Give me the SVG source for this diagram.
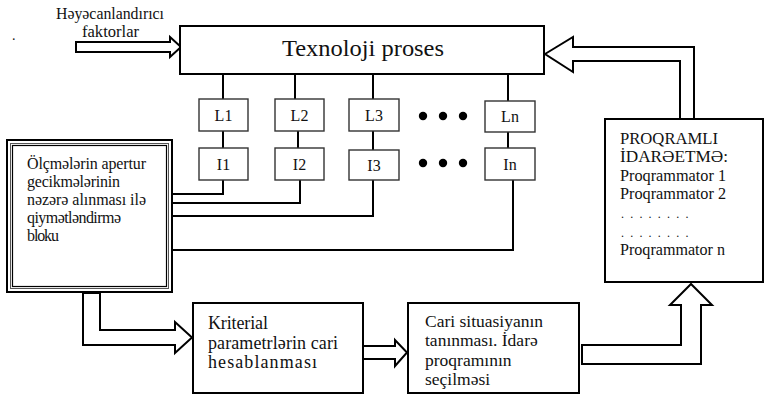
<svg xmlns="http://www.w3.org/2000/svg" width="765" height="397" viewBox="0 0 765 397">
<style>
text{font-family:'Liberation Serif','DejaVu Serif','Times New Roman',serif;fill:#111}
.box{fill:#fff;stroke:#000;stroke-width:2}
.sm{fill:#fff;stroke:#333;stroke-width:1.4}
.ln{fill:none;stroke:#000;stroke-width:2}
.blk{fill:#fff;stroke:#000;stroke-width:2;stroke-linejoin:miter}
.c{text-anchor:middle}
</style>
<rect width="765" height="397" fill="#fff"/>
<g font-family="Liberation Serif, DejaVu Serif, Times New Roman, serif">
<text x="12" y="40" font-size="14">.</text>
<g id="connectors">
<line class="ln" x1="223" y1="74" x2="223" y2="99"/>
<line class="ln" x1="295" y1="74" x2="295" y2="99"/>
<line class="ln" x1="373" y1="74" x2="373" y2="99"/>
<line class="ln" x1="508" y1="74" x2="508" y2="101"/>
<line class="ln" x1="223" y1="131" x2="223" y2="148"/>
<line class="ln" x1="298" y1="131" x2="298" y2="148"/>
<line class="ln" x1="373" y1="131" x2="373" y2="150"/>
<line class="ln" x1="508" y1="132" x2="508" y2="148"/>
<polyline class="ln" points="223,180 223,194 168,194"/>
<polyline class="ln" points="300,180 300,203 168,203" stroke-width="1.6"/>
<polyline class="ln" points="373,180 373,216 168,216"/>
<polyline class="ln" points="513,180 513,250 168,250"/>
<polygon class="blk" points="76,42 170,42 170,37 181,47 170,57 170,52 76,52"/>
<polygon class="blk" points="545,54 573,37 573,47 694,47 694,119 680,119 680,61 573,61 573,72"/>
<polygon class="blk" points="83,293 100,293 100,330 175,330 175,322 192,337.5 175,353 175,345 83,345"/>
<polygon class="blk" points="363,346 395,346 395,340 407,352.5 395,366 395,359 363,359"/>
<polygon class="blk" points="582,345 681,345 681,305 670,305 691,284 712,305 701,305 701,364 582,364"/>
</g>
<g id="excitation-label">
<text x="56" y="19" font-size="16" textLength="108" lengthAdjust="spacingAndGlyphs">Həyəcanlandırıcı</text>
<text x="82" y="37" font-size="16" textLength="57" lengthAdjust="spacingAndGlyphs">faktorlar</text>
</g>
<g id="process">
<rect class="box" x="180" y="26" width="364" height="48"/>
<text x="282" y="56" font-size="24" textLength="162" lengthAdjust="spacingAndGlyphs">Texnoloji proses</text>
</g>
<g id="L1"><rect class="sm" x="199" y="99" width="49" height="32"/><text x="223.5" y="121" font-size="16" class="c">L1</text></g>
<g id="L2"><rect class="sm" x="275" y="99" width="49" height="32"/><text x="299.5" y="121" font-size="16" class="c">L2</text></g>
<g id="L3"><rect class="sm" x="349" y="99" width="50" height="32"/><text x="374" y="121" font-size="16" class="c">L3</text></g>
<g id="Ln"><rect class="sm" x="485" y="101" width="50" height="31"/><text x="510" y="122" font-size="16" class="c">Ln</text></g>
<g id="I1"><rect class="sm" x="199" y="148" width="49" height="32"/><text x="223.5" y="170" font-size="16" class="c">I1</text></g>
<g id="I2"><rect class="sm" x="275" y="148" width="49" height="32"/><text x="299.5" y="170" font-size="16" class="c">I2</text></g>
<g id="I3"><rect class="sm" x="349" y="150" width="50" height="30"/><text x="374" y="171" font-size="16" class="c">I3</text></g>
<g id="In"><rect class="sm" x="485" y="148" width="50" height="32"/><text x="510" y="170" font-size="16" class="c">In</text></g>
<g id="dots">
<circle cx="423" cy="116" r="4.2"/><circle cx="443" cy="116" r="4.2"/><circle cx="463" cy="116" r="4.2"/>
<circle cx="423" cy="163" r="4.2"/><circle cx="443" cy="163" r="4.2"/><circle cx="463" cy="163" r="4.2"/>
</g>
<g id="estimation">
<rect x="7" y="140" width="165" height="152" fill="#fff" stroke="#000" stroke-width="2"/>
<rect x="10.5" y="143.5" width="158" height="145" fill="none" stroke="#555" stroke-width="1"/>
<rect x="12.5" y="145.5" width="154" height="141" fill="none" stroke="#000" stroke-width="1.2"/>
<text x="27" y="169" font-size="16" textLength="119" lengthAdjust="spacing">Ölçmələrin apertur</text>
<text x="27" y="187" font-size="16" textLength="93" lengthAdjust="spacing">gecikmələrinin</text>
<text x="27" y="205" font-size="16" textLength="119" lengthAdjust="spacing">nəzərə alınması ilə</text>
<text x="27" y="223" font-size="16" textLength="94" lengthAdjust="spacing">qiymətləndirmə</text>
<text x="27" y="241" font-size="16" textLength="32" lengthAdjust="spacing">bloku</text>
</g>
<g id="program-control">
<rect class="box" x="605" y="119" width="158" height="163"/>
<text x="620" y="144" font-size="16" textLength="98" lengthAdjust="spacingAndGlyphs">PROQRAMLI</text>
<text x="620" y="162" font-size="16" textLength="108" lengthAdjust="spacingAndGlyphs">İDARƏETMƏ:</text>
<text x="620" y="181" font-size="16" textLength="106" lengthAdjust="spacingAndGlyphs">Proqrammator 1</text>
<text x="620" y="199" font-size="16" textLength="106" lengthAdjust="spacingAndGlyphs">Proqrammator 2</text>
<text x="621" y="218" font-size="12" letter-spacing="1.6">. . . . . . . .</text>
<text x="621" y="237" font-size="12" letter-spacing="1.6">. . . . . . . .</text>
<text x="620" y="255" font-size="16" textLength="105" lengthAdjust="spacingAndGlyphs">Proqrammator n</text>
</g>
<g id="criteria">
<rect class="box" x="193" y="303" width="170" height="90"/>
<text x="208" y="329" font-size="18" textLength="60" lengthAdjust="spacing">Kriterial</text>
<text x="208" y="349" font-size="18" textLength="130" lengthAdjust="spacing">parametrlərin cari</text>
<text x="208" y="368" font-size="18" textLength="109" lengthAdjust="spacing">hesablanması</text>
</g>
<g id="recognition">
<rect class="box" x="408" y="303" width="171" height="90"/>
<text x="425" y="327" font-size="17.5">Cari situasiyanın</text>
<text x="425" y="346" font-size="17.5">tanınması. İdarə</text>
<text x="425" y="366" font-size="17.5">proqramının</text>
<text x="425" y="385" font-size="17.5">seçilməsi</text>
</g>
</g>
</svg>
